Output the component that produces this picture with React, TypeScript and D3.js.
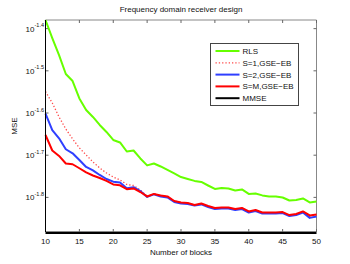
import { useEffect, useRef } from 'react';
import * as d3 from 'd3';

// x axis: number of blocks
const blocks = [
  10, 11, 12, 13, 14, 15, 16, 17, 18, 19, 20, 21, 22, 23, 24, 25, 26, 27, 28, 29,
  30, 31, 32, 33, 34, 35, 36, 37, 38, 39, 40, 41, 42, 43, 44, 45, 46, 47, 48, 49, 50,
];

// MSE values
const rls = [
  0.04173, 0.03782, 0.03446, 0.03108, 0.02991, 0.02719, 0.02554, 0.02458, 0.02353, 0.02265,
  0.02168, 0.02139, 0.02036, 0.02047, 0.0196, 0.01887, 0.01907, 0.01876, 0.01841, 0.01806,
  0.01771, 0.01752, 0.01734, 0.01724, 0.01691, 0.0166, 0.01669, 0.01664, 0.01646, 0.01655,
  0.01615, 0.01619, 0.01602, 0.01593, 0.01593, 0.01584, 0.01558, 0.01563, 0.01576, 0.01542,
  0.0155,
];
const s1 = [
  0.02824, 0.02653, 0.02458, 0.02302, 0.0218, 0.02076, 0.01998, 0.01923, 0.01861, 0.01811,
  0.01771, 0.01743, 0.01701, 0.01691, 0.0165, 0.01594, 0.01616, 0.01603, 0.01592, 0.01553,
  0.01541, 0.01535, 0.0152, 0.01531, 0.0151, 0.01494, 0.01498, 0.01497, 0.01485, 0.01494,
  0.01466, 0.01477, 0.01457, 0.01457, 0.01457, 0.01461, 0.01437, 0.01445, 0.01466, 0.01431,
  0.0144,
];
const s2 = [
  0.02505, 0.02289, 0.02188, 0.02061, 0.02016, 0.01944, 0.01871, 0.01836, 0.01791, 0.01752,
  0.01727, 0.01719, 0.01666, 0.01675, 0.01641, 0.01589, 0.01611, 0.01593, 0.01584, 0.01546,
  0.01533, 0.01529, 0.01517, 0.01525, 0.01504, 0.01487, 0.01491, 0.01491, 0.01479, 0.01487,
  0.01459, 0.01471, 0.01451, 0.01451, 0.01451, 0.01455, 0.01432, 0.01439, 0.01459, 0.01417,
  0.01428,
];
const sm = [
  0.02228, 0.02047, 0.01987, 0.01907, 0.01899, 0.01858, 0.01816, 0.01786, 0.01762, 0.01734,
  0.01701, 0.01693, 0.01657, 0.01664, 0.01632, 0.01593, 0.01615, 0.01602, 0.01593, 0.01554,
  0.01542, 0.01537, 0.01521, 0.01533, 0.01512, 0.01496, 0.015, 0.015, 0.01487, 0.01496,
  0.01468, 0.01479, 0.01459, 0.01459, 0.01459, 0.01463, 0.01439, 0.01447, 0.01468, 0.01436,
  0.01443,
];
const mmseLevel = 0.01305;

const xTicks = [10, 15, 20, 25, 30, 35, 40, 45, 50];
const yTickExps = [-1.4, -1.5, -1.6, -1.7, -1.8];

const series = [
  { name: 'RLS', values: rls, color: '#66ff00', width: 2, dash: null },
  { name: 'S=1,GSE\u2212EB', values: s1, color: '#ff4a4a', width: 1.3, dash: '1.3,2' },
  { name: 'S=2,GSE\u2212EB', values: s2, color: '#2f3fff', width: 2, dash: null },
  { name: 'S=M,GSE\u2212EB', values: sm, color: '#ff0000', width: 2, dash: null },
];

const FONT = 'Helvetica, Arial, "Liberation Sans", sans-serif';

const App = () => {
  const chartRef = useRef<SVGSVGElement>(null);

  useEffect(() => {
    const W = 350,
      H = 264;
    const margin = { top: 20, right: 33.5, bottom: 32, left: 45.5 };
    const width = W - margin.left - margin.right,
      height = H - margin.top - margin.bottom;

    const svg = d3.select(chartRef.current);
    svg.selectAll('*').remove();
    svg.attr('width', W).attr('height', H).style('font-family', FONT);

    svg.append('rect').attr('width', W).attr('height', H).attr('fill', '#fff');

    const g = svg.append('g').attr('transform', `translate(${margin.left},${margin.top})`);

    const x = d3.scaleLinear().domain([10, 50]).range([0, width]);
    const y = d3.scaleLog().domain([0.01312, 0.04173]).range([height, 0]);

    // box
    g.append('line').attr('x1', 0).attr('x2', width).attr('y1', 0).attr('y2', 0).attr('stroke', '#888');
    g.append('line').attr('x1', width).attr('x2', width).attr('y1', 0).attr('y2', height).attr('stroke', '#888');
    g.append('line').attr('x1', 0).attr('x2', width).attr('y1', height - 0.5).attr('y2', height - 0.5).attr('stroke', '#888');

    // x ticks (inward, top and bottom)
    xTicks.forEach((t) => {
      const px = x(t);
      g.append('line').attr('x1', px).attr('x2', px).attr('y1', height).attr('y2', height - 3).attr('stroke', '#666');
      g.append('line').attr('x1', px).attr('x2', px).attr('y1', 0).attr('y2', 3).attr('stroke', '#666');
      g.append('text')
        .attr('x', px)
        .attr('y', height + 12)
        .attr('text-anchor', 'middle')
        .attr('font-size', 8)
        .attr('fill', '#111')
        .text(t);
    });

    // y ticks (log)
    yTickExps.forEach((e) => {
      const py = y(Math.pow(10, e));
      g.append('line').attr('x1', 0).attr('x2', 3).attr('y1', py).attr('y2', py).attr('stroke', '#666');
      g.append('line').attr('x1', width).attr('x2', width - 3).attr('y1', py).attr('y2', py).attr('stroke', '#666');
      const txt = g
        .append('text')
        .attr('x', -1.5)
        .attr('y', py + 3)
        .attr('text-anchor', 'end')
        .attr('fill', '#111');
      txt.append('tspan').attr('font-size', 8).text('10');
      txt.append('tspan').attr('font-size', 5.5).attr('dy', -4.5).text(String(e));
    });

    const line = d3
      .line<number>()
      .x((d, i) => x(blocks[i]))
      .y((d) => y(d));

    series.forEach((s) => {
      const p = g
        .append('path')
        .datum(s.values)
        .attr('fill', 'none')
        .attr('stroke', s.color)
        .attr('stroke-width', s.width)
        .attr('stroke-linejoin', 'round')
        .attr('d', line);
      if (s.dash) p.attr('stroke-dasharray', s.dash);
    });

    // MMSE
    g.append('line')
      .attr('x1', x(blocks[0]))
      .attr('x2', x(blocks[blocks.length - 1]))
      .attr('y1', y(mmseLevel))
      .attr('y2', y(mmseLevel))
      .attr('stroke', '#000')
      .attr('stroke-width', 2);

    // left axis line
    g.append('line').attr('x1', 0).attr('x2', 0).attr('y1', 0).attr('y2', height).attr('stroke', '#000');

    // title and labels
    svg.append('text')
      .attr('x', margin.left + width / 2)
      .attr('y', 12)
      .attr('text-anchor', 'middle')
      .attr('font-size', 8)
      .attr('fill', '#111')
      .text('Frequency domain receiver design');
    svg.append('text')
      .attr('x', margin.left + width / 2)
      .attr('y', 254.5)
      .attr('text-anchor', 'middle')
      .attr('font-size', 8)
      .attr('fill', '#111')
      .text('Number of blocks');
    svg.append('text')
      .attr('transform', `translate(17,${margin.top + height / 2}) rotate(-90)`)
      .attr('text-anchor', 'middle')
      .attr('font-size', 8)
      .attr('fill', '#111')
      .text('MSE');

    // legend
    const entries = [...series, { name: 'MMSE', color: '#000', width: 2, dash: null }];
    const lg = svg.append('g').attr('transform', 'translate(210.5,43.5)');
    lg.append('rect').attr('width', 88).attr('height', 62).attr('fill', '#fff').attr('stroke', '#444');
    entries.forEach((s, i) => {
      const ly = 7.5 + i * 11.8;
      const l = lg
        .append('line')
        .attr('x1', 5)
        .attr('x2', 29)
        .attr('y1', ly)
        .attr('y2', ly)
        .attr('stroke', s.color)
        .attr('stroke-width', s.width);
      if (s.dash) l.attr('stroke-dasharray', s.dash);
      lg.append('text')
        .attr('x', 32)
        .attr('y', ly + 3)
        .attr('font-size', 8)
        .attr('fill', '#111')
        .text(s.name);
    });

    return () => {
      d3.select(chartRef.current).selectAll('*').remove();
    };
  }, []);

  return (
    <div style={{ position: 'absolute', left: 0, top: 0 }}>
      <svg ref={chartRef}></svg>
    </div>
  );
};

export default App;
